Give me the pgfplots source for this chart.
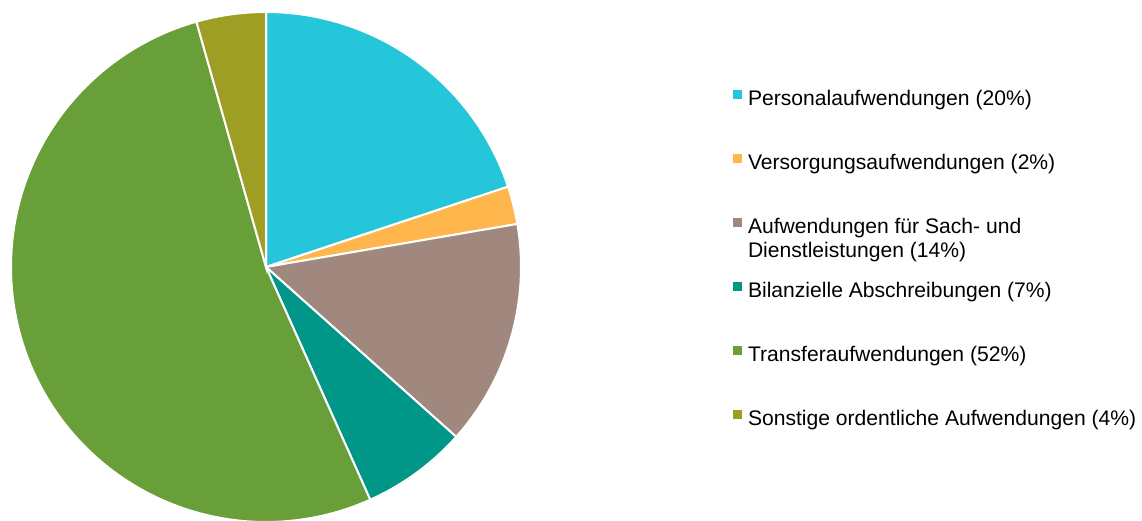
\documentclass[border=0pt]{standalone}
\usepackage{pgfplots}
\pgfplotsset{compat=1.18}
\usepackage{fontspec}
\setmainfont{Liberation Sans}
\definecolor{c1}{HTML}{26C6DA}
\definecolor{c2}{HTML}{FFB74D}
\definecolor{c3}{HTML}{A1887F}
\definecolor{c4}{HTML}{009688}
\definecolor{c5}{HTML}{689F38}
\definecolor{c6}{HTML}{9E9D24}
% shares in percent (clockwise from 12 o'clock)
\def\vA{19.9}
\def\vB{2.4}
\def\vC{14.3}
\def\vD{6.7}
\def\vE{52.3}
\def\vF{4.4}
\pgfmathsetmacro{\aA}{90}
\pgfmathsetmacro{\aB}{\aA-3.6*\vA}
\pgfmathsetmacro{\aC}{\aB-3.6*\vB}
\pgfmathsetmacro{\aD}{\aC-3.6*\vC}
\pgfmathsetmacro{\aE}{\aD-3.6*\vD}
\pgfmathsetmacro{\aF}{\aE-3.6*\vE}
\pgfmathsetmacro{\aG}{\aF-3.6*\vF}
\def\cx{266}
\def\cy{254}
\def\rr{255}
\begin{document}
\begin{tikzpicture}
\useasboundingbox (0,0) rectangle (1142pt,521pt);
\begin{axis}[
  at={(0,0)}, anchor=south west,
  width=1142pt, height=521pt, scale only axis,
  xmin=0, xmax=1142, ymin=0, ymax=521,
  hide axis, clip=false,
  legend cell align=left,
  legend image code/.code={\fill[#1,draw=none] (0pt,2pt) rectangle (9pt,11pt);},
  legend style={draw=none, fill=none, inner sep=0pt, outer sep=0pt,
    at={(axis cs:733,431)}, anchor=north west,
    font=\fontsize{21.1}{24}\selectfont,
    row sep=43pt, column sep=6pt,
    nodes={inner sep=0pt, text height=15pt, text depth=5pt}},
]
\addplot[fill=c1, draw=white, line width=2pt, domain=\aB:\aA, samples=80] ({\cx+\rr*cos(x)},{\cy+\rr*sin(x)}) -- (axis cs:\cx,\cy) -- cycle;
\addlegendentry{Personalaufwendungen (20\%)}
\addplot[fill=c2, draw=white, line width=2pt, domain=\aC:\aB, samples=20] ({\cx+\rr*cos(x)},{\cy+\rr*sin(x)}) -- (axis cs:\cx,\cy) -- cycle;
\addlegendentry{Versorgungsaufwendungen (2\%)}
\addplot[fill=c3, draw=white, line width=2pt, domain=\aD:\aC, samples=60] ({\cx+\rr*cos(x)},{\cy+\rr*sin(x)}) -- (axis cs:\cx,\cy) -- cycle;
\addlegendentry{\vtop{\baselineskip=24pt\hbox{Aufwendungen für Sach- und}\hbox{Dienstleistungen (14\%)}}}
\addplot[fill=c4, draw=white, line width=2pt, domain=\aE:\aD, samples=40] ({\cx+\rr*cos(x)},{\cy+\rr*sin(x)}) -- (axis cs:\cx,\cy) -- cycle;
\addlegendentry{Bilanzielle Abschreibungen (7\%)}
\addplot[fill=c5, draw=white, line width=2pt, domain=\aF:\aE, samples=150] ({\cx+\rr*cos(x)},{\cy+\rr*sin(x)}) -- (axis cs:\cx,\cy) -- cycle;
\addlegendentry{Transferaufwendungen (52\%)}
\addplot[fill=c6, draw=white, line width=2pt, domain=\aG:\aF, samples=30] ({\cx+\rr*cos(x)},{\cy+\rr*sin(x)}) -- (axis cs:\cx,\cy) -- cycle;
\addlegendentry{Sonstige ordentliche Aufwendungen (4\%)}
\end{axis}
\end{tikzpicture}
\end{document}
